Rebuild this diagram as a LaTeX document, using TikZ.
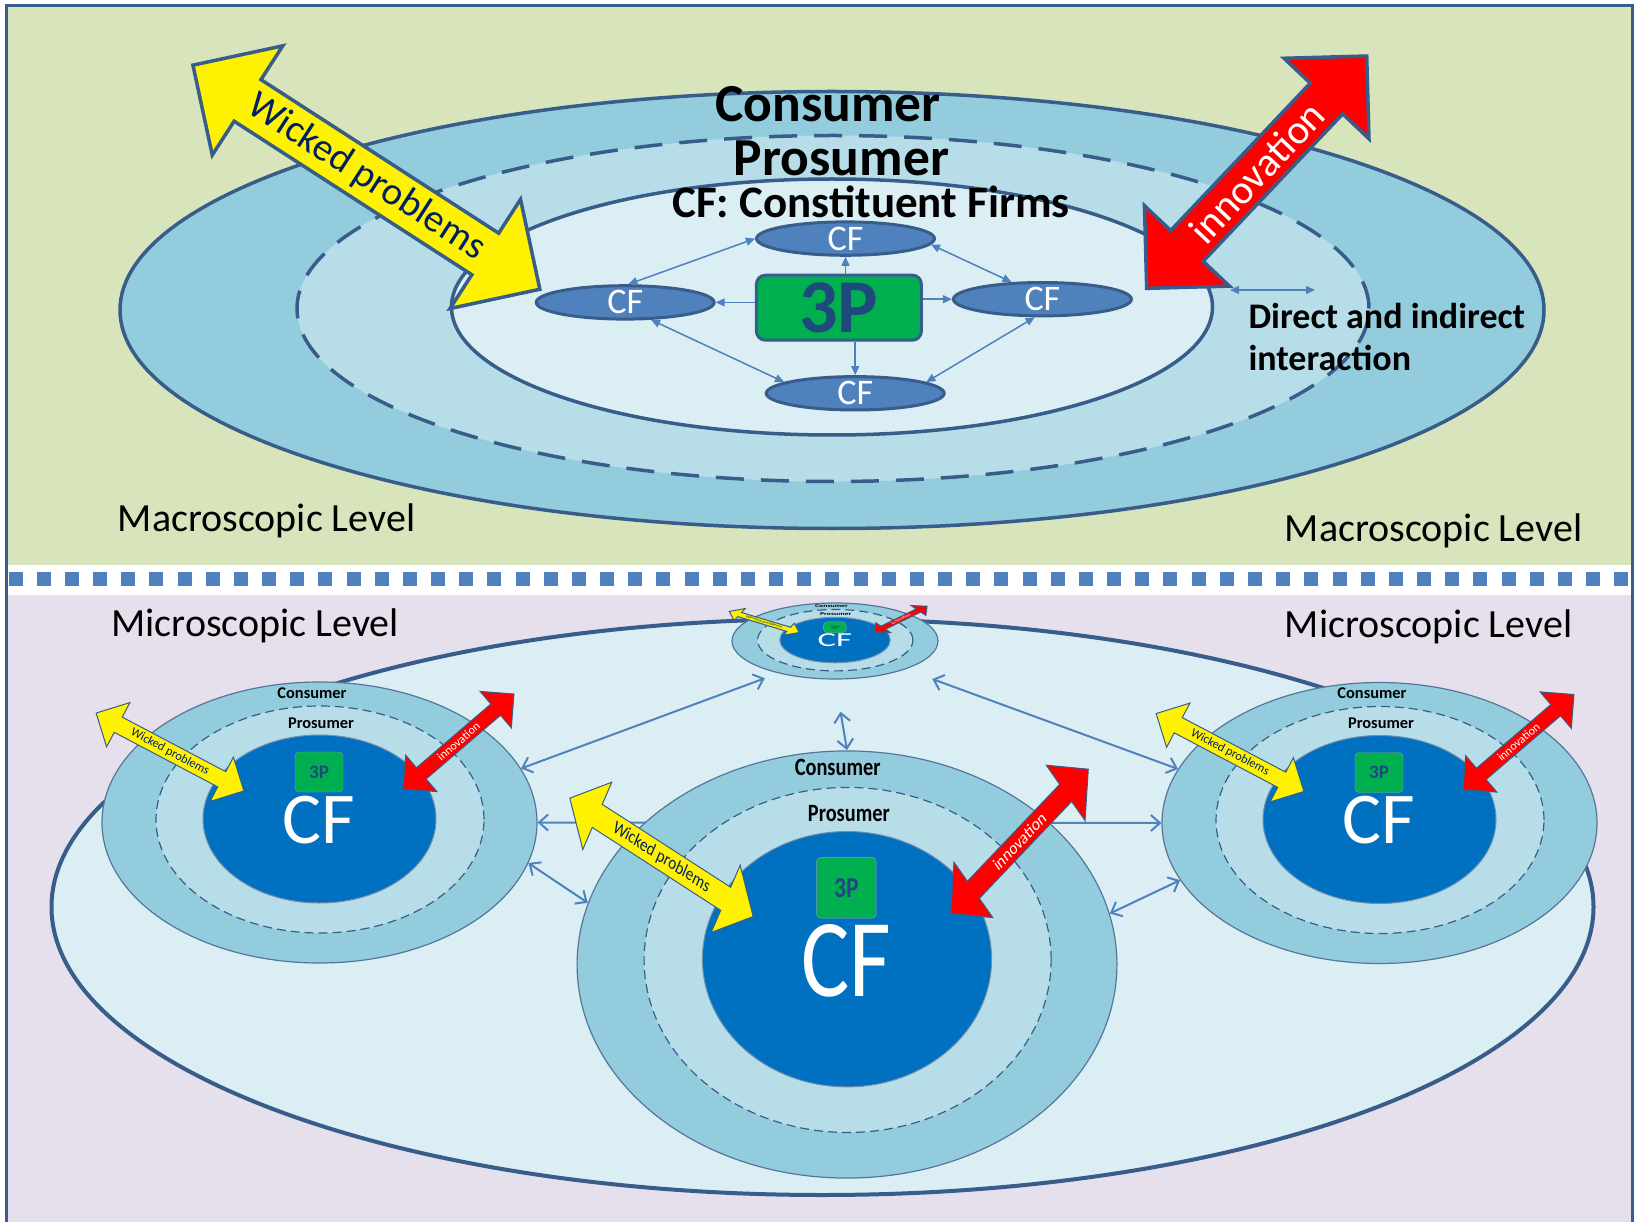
\documentclass[tikz,border=0pt]{standalone}
\usepackage{fontspec}
\setmainfont{Carlito}
\usepackage{tikz}
\usetikzlibrary{shapes.geometric,shapes.arrows,arrows.meta}

\definecolor{macroback}{RGB}{216,228,188}
\definecolor{microback}{RGB}{229,224,236}
\definecolor{consumerfill}{RGB}{147,205,221}
\definecolor{prosumerfill}{RGB}{183,222,232}
\definecolor{firmfill}{RGB}{219,238,244}
\definecolor{edgeblue}{RGB}{56,93,138}
\definecolor{linkblue}{RGB}{79,129,189}
\definecolor{cfblue}{RGB}{0,112,192}
\definecolor{ppgreen}{RGB}{0,176,80}
\definecolor{ppnavy}{RGB}{31,73,125}
\definecolor{wickednavy}{RGB}{0,32,96}

\newcommand{\fs}[1]{\fontsize{#1}{#1}\selectfont}

\pgfdeclarelayer{front}
\pgfsetlayers{main,front}

\tikzset{
  ring/.style={ellipse, inner sep=0pt},
  cfsmall/.style={ellipse, fill=linkblue, draw=edgeblue, line width=3pt, minimum width=178pt, minimum height=31pt, inner sep=0pt, text=white, font=\fs{36}},
  flow/.style={draw=linkblue, line width=1.5pt, -{Triangle[length=9pt,width=8pt]}},
  twoway/.style={draw=linkblue, line width=1.5pt, {Triangle[length=9pt,width=8pt]}-{Triangle[length=9pt,width=8pt]}},
  link/.style={draw=linkblue, line width=2pt, {Straight Barb[length=9pt,width=16pt]}-{Straight Barb[length=9pt,width=16pt]}},
  wicked/.style={double arrow, double arrow tip angle=90, fill=yellow, draw=edgeblue, inner sep=0pt, text=wickednavy},
  innov/.style={double arrow, double arrow tip angle=90, fill=red, draw=edgeblue, inner sep=0pt, text=white},
  levellabel/.style={anchor=base west, inner sep=0pt, font=\fs{40}},
}

% one firm with its rings, drawn at (#2,#3) and scaled by #4, #5
\newcommand{\firmunit}[5]{%
\begin{scope}[shift={(#2,#3)}, xscale=#4, yscale=#5, transform shape]
  \node[ring, fill=consumerfill, draw=edgeblue!85, line width=1.2pt, minimum width=435pt, minimum height=281pt] (#1) at (0,0) {};
  \node[ring, fill=prosumerfill, draw=edgeblue, line width=1.2pt, dash pattern=on 9pt off 5pt, minimum width=328pt, minimum height=227pt] (#1-pro) at (0.5,-3) {};
  \node[ring, fill=cfblue, draw=edgeblue!70, line width=1pt, minimum width=233pt, minimum height=168pt] (#1-cf) at (0,-3.5) {};
  \node[font=\fs{16.4}\bfseries, inner sep=0pt] (#1-con-txt) at (-7.5,-129.5) {Consumer};
  \node[font=\fs{16.4}\bfseries, inner sep=0pt] (#1-pro-txt) at (1.5,-99.5) {Prosumer};
  \node[fill=ppgreen, draw=edgeblue!60, rounded corners=4pt, minimum width=48pt, minimum height=40pt, inner sep=0pt, text=ppnavy, font=\fs{19}\bfseries] (#1-3p) at (-0.5,-50.5) {3P};
  \node[text=white, font=\fs{73}, inner sep=0pt] (#1-cf-txt) at (-0.5,-2.5) {CF};
  \node[wicked, rotate=-27.8, minimum height=167pt, minimum width=50pt, double arrow head extend=11pt, line width=1pt, font=\fs{12.3}] (#1-wp) at (-149.5,-70.5) {Wicked problems};
  \node[innov, rotate=40.6, minimum height=146pt, minimum width=48pt, double arrow head extend=10.5pt, line width=1pt, font=\fs{12}] (#1-in) at (139,-81) {innovation};
\end{scope}}

\begin{document}
\begin{tikzpicture}[x=1pt, y=-1pt]
\useasboundingbox (0,0) rectangle (1636,1222);
\fill[white] (0,0) rectangle (1636,1222);
\fill[macroback] (6,5.5) rectangle (1632.5,565);
\fill[microback] (6,595) rectangle (1632.5,1222);
\draw[linkblue, line width=14pt, dash pattern=on 14pt off 14.17pt] (8.5,579) -- (1632.5,579);
\draw[edgeblue, line width=3pt] (6,1222) -- (6,5.5) -- (1632.5,5.5) -- (1632.5,1222);

% macroscopic level
\node[ring, fill=consumerfill, draw=edgeblue, line width=3.5pt, minimum width=1424pt, minimum height=437pt] (macro) at (832,310) {};
\node[ring, fill=prosumerfill, draw=edgeblue, line width=3.5pt, dash pattern=on 28pt off 17pt, minimum width=1072pt, minimum height=346pt] (macropro) at (833,308.5) {};
\node[ring, fill=firmfill, draw=edgeblue, line width=3.5pt, minimum width=761pt, minimum height=256pt] (macrocf) at (832,307) {};

\node[font=\fs{53.5}\bfseries, inner sep=0pt] (contxt) at (828,104.3) {Consumer};
\node[font=\fs{53.5}\bfseries, inner sep=0pt] (protxt) at (841.5,158.6) {Prosumer};
\node[font=\fs{45}\bfseries, inner sep=0pt] (cftxt) at (871,201.4) {CF: Constituent Firms};

\node[wicked, rotate=-32.86, minimum height=413pt, minimum width=130pt, double arrow head extend=30pt, line width=3.5pt, font=\fs{39}] (wp) at (366.4,177.2) {Wicked problems};
\node[innov, rotate=46.56, minimum height=320pt, minimum width=117pt, double arrow head extend=26pt, line width=3.5pt, font=\fs{41}] (in) at (1256.7,172.2) {innovation};

\node[fill=ppgreen, draw=edgeblue, line width=3pt, rounded corners=9pt, minimum width=165pt, minimum height=65pt, inner sep=0pt, text=ppnavy, font=\fs{76}\bfseries] (tp) at (838.9,307.7) {3P};
\node[cfsmall] (cfT) at (845.5,238.6) {CF};
\node[cfsmall] (cfL) at (625.2,302.4) {CF};
\node[cfsmall] (cfR) at (1042.4,299.2) {CF};
\node[cfsmall] (cfB) at (855.2,393.3) {CF};

\draw[flow] (tp.north -| cfT) -- (cfT.south);
\draw[flow] (tp.west |- cfL) -- (cfL.east);
\draw[flow] (tp.east |- cfR) -- (cfR.west);
\draw[flow] (tp.south -| cfB) -- (cfB.north);
\draw[twoway] (cfL.80) -- (cfT.west);
\draw[twoway] (cfT.-4) -- (cfR.151);
\draw[twoway] (cfL.-34) -- (cfB.171);
\draw[twoway] (cfR.-113) -- (cfB.9);

\coordinate (dia) at (1230,290);
\coordinate (dib) at (1315,290);
\draw[twoway] (dia) -- (dib);
\node[anchor=base west, inner sep=0pt, font=\fs{36}\bfseries] (dtxt) at (1248.3,328.5) {Direct and indirect};
\node[anchor=base west, inner sep=0pt, font=\fs{36}\bfseries] (itxt) at (1248.3,371) {interaction};

\node[levellabel] (macroL) at (117.7,531) {Macroscopic Level};
\node[levellabel] (macroR) at (1284.7,541) {Macroscopic Level};

% microscopic level
\node[levellabel] (microL) at (111.4,636) {Microscopic Level};
\node[levellabel] (microR) at (1284.7,637.2) {Microscopic Level};
\node[ring, fill=firmfill, draw=edgeblue, line width=4pt, minimum width=1542pt, minimum height=576pt] (micro) at (822.5,907) {};

\begin{pgfonlayer}{front}
\firmunit{lu}{319.5}{822.5}{1}{1}
\firmunit{ru}{1379.5}{823}{1}{1}
\firmunit{cu}{847}{964.5}{1.241}{1.52}
\firmunit{tu}{835}{641}{0.4736}{0.2705}
\end{pgfonlayer}

\draw[link] (lu.east) -- (ru.west);
\draw[link, shorten >=15pt] (lu.15) -- (tu.225);
\draw[link, shorten <=29pt] (tu.-35) -- (ru.165);
\draw[link, shorten <=33pt] (tu.south) -- (cu.north);
\draw[link] (lu.-11) -- (cu.169);
\draw[link] (cu.9) -- (ru.196);
\end{tikzpicture}
\end{document}
